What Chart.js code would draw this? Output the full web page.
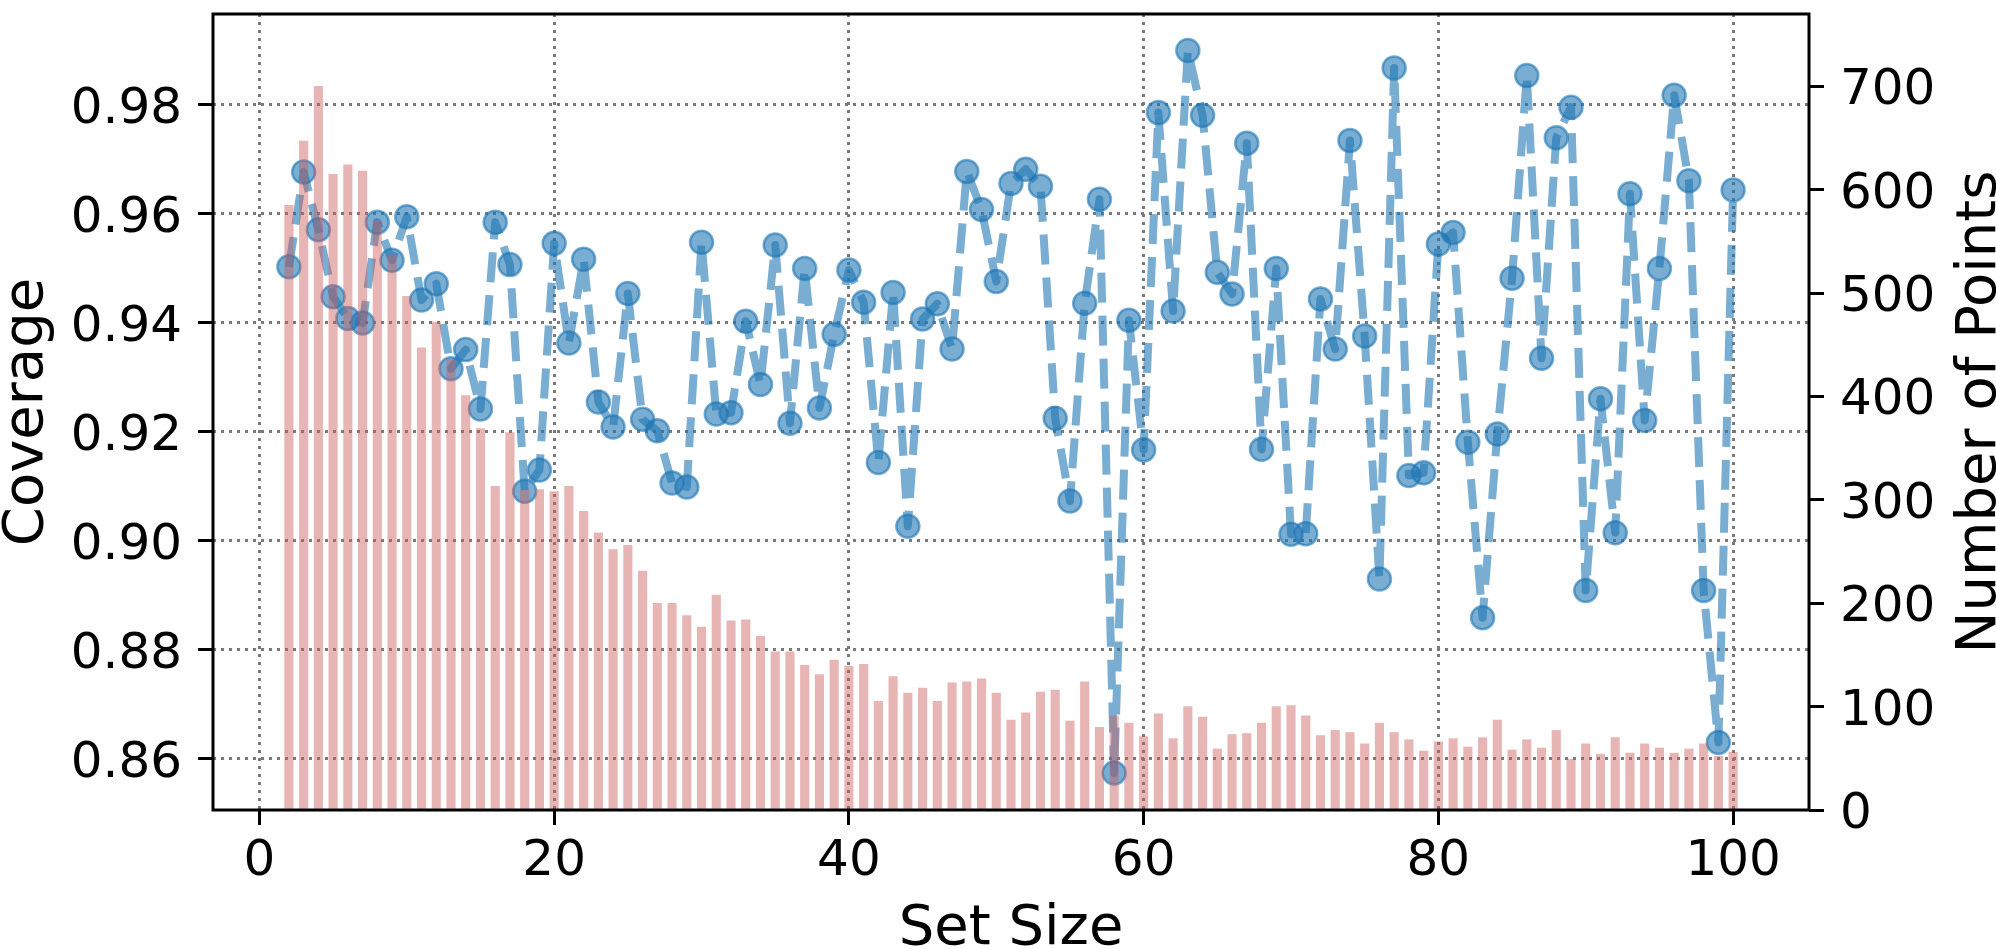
<!DOCTYPE html>
<html>
<head>
<meta charset="utf-8">
<title>Coverage vs Set Size</title>
<script src="https://cdn.jsdelivr.net/npm/chart.js@4.4.1/dist/chart.umd.min.js"></script>
<style>
  html, body { margin: 0; padding: 0; background: #fff; }
  canvas { display: block; }
</style>
</head>
<body>
<canvas id="chart" width="1996" height="949"></canvas>
<script>
// --- data ---
const setSizes = [
  2, 3, 4, 5, 6, 7, 8, 9, 10, 11, 12, 13, 14, 15, 16, 17, 18, 19, 20, 21,
  22, 23, 24, 25, 26, 27, 28, 29, 30, 31, 32, 33, 34, 35, 36, 37, 38, 39, 40, 41,
  42, 43, 44, 45, 46, 47, 48, 49, 50, 51, 52, 53, 54, 55, 56, 57, 58, 59, 60, 61,
  62, 63, 64, 65, 66, 67, 68, 69, 70, 71, 72, 73, 74, 75, 76, 77, 78, 79, 80, 81,
  82, 83, 84, 85, 86, 87, 88, 89, 90, 91, 92, 93, 94, 95, 96, 97, 98, 99, 100
];

const coverage = [
  0.9503, 0.9677, 0.9571, 0.9448, 0.9408, 0.9400, 0.9585, 0.9515, 0.9595, 0.9442,
  0.9472, 0.9316, 0.9351, 0.9242, 0.9585, 0.9507, 0.9091, 0.9130, 0.9546, 0.9363,
  0.9517, 0.9255, 0.9209, 0.9454, 0.9223, 0.9202, 0.9106, 0.9099, 0.9548, 0.9233,
  0.9235, 0.9403, 0.9287, 0.9543, 0.9216, 0.9500, 0.9244, 0.9379, 0.9497, 0.9438,
  0.9144, 0.9456, 0.9027, 0.9407, 0.9435, 0.9352, 0.9678, 0.9608, 0.9476, 0.9656,
  0.9682, 0.9651, 0.9225, 0.9073, 0.9436, 0.9627, 0.8574, 0.9405, 0.9167, 0.9786,
  0.9422, 0.9900, 0.9781, 0.9493, 0.9453, 0.9730, 0.9168, 0.9500, 0.9012, 0.9013,
  0.9444, 0.9352, 0.9735, 0.9376, 0.8930, 0.9868, 0.9120, 0.9125, 0.9545, 0.9566,
  0.9181, 0.8859, 0.9196, 0.9482, 0.9854, 0.9335, 0.9740, 0.9796, 0.8909, 0.9261,
  0.9015, 0.9637, 0.9221, 0.9500, 0.9818, 0.9661, 0.8909, 0.8630, 0.9644
];

const numPoints = [
  585, 647, 700, 615, 624, 618, 570, 537, 497, 447,
  472, 436, 401, 369, 313, 365, 310, 310, 308, 313,
  289, 268, 252, 256, 231, 200, 200, 188, 177, 208,
  183, 184, 168, 153, 153, 140, 131, 145, 139, 141,
  105, 129, 113, 118, 105, 123, 124, 127, 113, 87,
  94, 114, 116, 86, 124, 80, 91, 84, 71, 93,
  69, 100, 90, 59, 73, 74, 84, 100, 101, 91,
  72, 77, 75, 64, 84, 75, 68, 57, 66, 69,
  61, 70, 87, 58, 68, 60, 77, 49, 64, 54,
  70, 55, 64, 60, 55, 59, 64, 52, 56
];

const xTicks = [0, 20, 40, 60, 80, 100];
const coverageTicks = [0.86, 0.88, 0.90, 0.92, 0.94, 0.96, 0.98];
const pointTicks = [0, 100, 200, 300, 400, 500, 600, 700];

const FONT = '"DejaVu Sans", "Liberation Sans", sans-serif';
const gridColor = '#7a7a7a';

// right-hand ylabel reads bottom-to-top like matplotlib's twinx label,
// Chart.js would rotate it the other way, so draw it here; also the axes frame
const framePlugin = {
    id: 'frame',
    afterDraw(chart) {
        const { ctx, chartArea: a } = chart;
        ctx.save();
        ctx.strokeStyle = '#000';
        ctx.lineWidth = 3;
        ctx.strokeRect(a.left, a.top, a.right - a.left, a.bottom - a.top);

        ctx.fillStyle = '#000';
        ctx.font = '56px ' + FONT;
        ctx.textAlign = 'center';
        ctx.textBaseline = 'alphabetic';
        ctx.translate(1995, (a.top + a.bottom) / 2);
        ctx.rotate(-Math.PI / 2);
        ctx.fillText('Number of Points', 0, 0);
        ctx.restore();
    }
};

const tickMarks = {
    drawTicks: true,
    tickLength: 15,
    tickColor: '#000',
    tickWidth: 3,
    offset: false
};

const ctx = document.getElementById('chart').getContext('2d');
new Chart(ctx, {
    type: 'bar',
    data: {
        datasets: [
            {
                type: 'bar',
                label: 'Number of Points',
                data: setSizes.map((s, i) => ({ x: s, y: numPoints[i] })),
                xAxisID: 'x',
                yAxisID: 'y1',
                backgroundColor: 'rgba(205, 92, 92, 0.45)',
                borderWidth: 0,
                barThickness: 8.5,
                order: 0
            },
            {
                type: 'line',
                label: 'Coverage',
                data: setSizes.map((s, i) => ({ x: s, y: coverage[i] })),
                xAxisID: 'x',
                yAxisID: 'y',
                borderColor: 'rgba(31, 119, 180, 0.6)',
                borderWidth: 8,
                borderDash: [30, 13],
                borderJoinStyle: 'round',
                tension: 0,
                pointRadius: 11.5,
                pointBorderWidth: 2.5,
                pointBackgroundColor: 'rgba(31, 119, 180, 0.6)',
                pointBorderColor: 'rgba(31, 119, 180, 0.6)',
                clip: false,
                order: 1
            }
        ]
    },
    options: {
        responsive: false,
        animation: false,
        events: [],
        layout: { padding: { top: 2, left: 0, right: 0, bottom: 0 } },
        plugins: {
            legend: { display: false },
            tooltip: { enabled: false }
        },
        scales: {
            x: {
                type: 'linear',
                position: 'bottom',
                bounds: 'data',
                min: -3.15,
                max: 105.15,
                offset: false,
                afterBuildTicks: (s) => { s.ticks = xTicks.map(v => ({ value: v })); },
                afterFit: (s) => { s.height = 139; s.paddingLeft = 0; s.paddingRight = 0; },
                ticks: {
                    font: { family: FONT, size: 50 },
                    color: '#000',
                    padding: 7,
                    maxRotation: 0,
                    autoSkip: false,
                    callback: (v) => String(v)
                },
                grid: Object.assign({ color: gridColor, lineWidth: 3 }, tickMarks),
                border: { display: false, dash: [3, 5] },
                title: {
                    display: true,
                    text: 'Set Size',
                    color: '#000',
                    font: { family: FONT, size: 56 },
                    padding: { top: 0, bottom: -14 }
                }
            },
            y: {
                type: 'linear',
                position: 'left',
                bounds: 'data',
                min: 0.8506,
                max: 0.9967,
                afterBuildTicks: (s) => { s.ticks = coverageTicks.map(v => ({ value: v })); },
                afterFit: (s) => { s.width = 213; s.paddingTop = 0; s.paddingBottom = 0; },
                ticks: {
                    font: { family: FONT, size: 50 },
                    color: '#000',
                    padding: 16,
                    labelOffset: 5,
                    autoSkip: false,
                    callback: (v) => Number(v).toFixed(2)
                },
                grid: Object.assign({ color: gridColor, lineWidth: 3 }, tickMarks),
                border: { display: false, dash: [3, 5] },
                title: {
                    display: true,
                    text: 'Coverage',
                    color: '#000',
                    font: { family: FONT, size: 56 },
                    padding: { top: -6, bottom: 0 }
                }
            },
            y1: {
                type: 'linear',
                position: 'right',
                bounds: 'data',
                min: 0,
                max: 770,
                afterBuildTicks: (s) => { s.ticks = pointTicks.map(v => ({ value: v })); },
                afterFit: (s) => { s.width = 187; s.paddingTop = 0; s.paddingBottom = 0; },
                ticks: {
                    font: { family: FONT, size: 50 },
                    color: '#000',
                    padding: 16,
                    labelOffset: 5,
                    autoSkip: false,
                    callback: (v) => String(v)
                },
                grid: Object.assign({ color: gridColor, lineWidth: 3, drawOnChartArea: false }, tickMarks),
                border: { display: false }
            }
        }
    },
    plugins: [framePlugin]
});
</script>
</body>
</html>
